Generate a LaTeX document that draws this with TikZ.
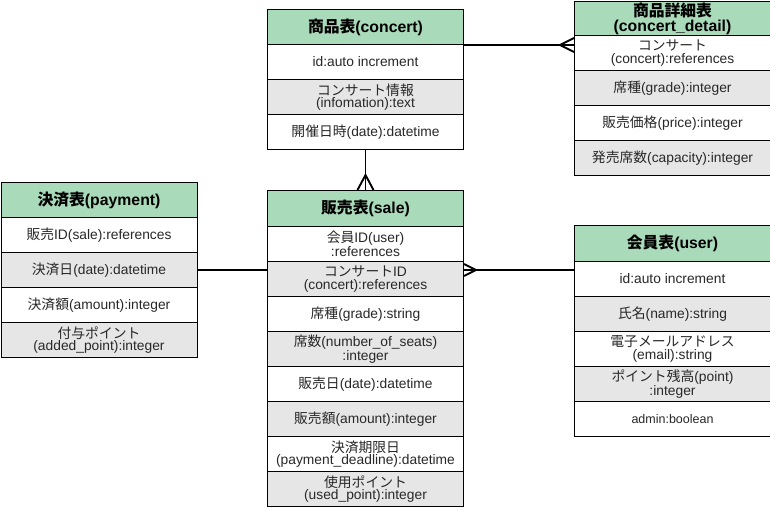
\documentclass[tikz,border=0pt]{standalone}
\usepackage{fontspec}
\setmainfont{Liberation Sans}
\newfontfamily\jp{Noto Sans CJK JP}
\newcommand{\J}[1]{{\jp #1}}
\usetikzlibrary{calc}
\definecolor{hdrgreen}{RGB}{169,218,186}
\definecolor{rowgray}{RGB}{230,230,230}
\definecolor{txt}{RGB}{40,40,40}
\begin{document}
\begin{tikzpicture}[x=1pt,y=-1pt,
 base/.style={draw=black, line width=1pt, anchor=north west, minimum width=196pt, minimum height=35pt, inner sep=0pt, align=center, text=txt, font=\fontsize{13.8}{12.5}\selectfont},
 hdr/.style={base, fill=hdrgreen, text=black, font=\bfseries\fontsize{15.8}{15}\selectfont},
 cw/.style={base, fill=white},
 cg/.style={base, fill=rowgray},
 conn/.style={line width=1.9pt, draw=black},
]
\useasboundingbox (0,0) rectangle (770,508);
% concert
\node[hdr] (ch) at (267,9) {\J{商品表}(concert)};
\node[cw] (c1) at (267,44) {id:auto increment};
\node[cg] (c2) at (267,79) {\J{コンサート情報}\\(infomation):text};
\node[cw] (c3) at (267,114) {\J{開催日時}(date):datetime};
% concert_detail
\node[hdr, minimum height=34pt] (dh) at (574,1) {\J{商品詳細表}\\(concert\_detail)};
\node[cw] (d1) at (574,35) {\J{コンサート}\\(concert):references};
\node[cg] (d2) at (574,70) {\J{席種}(grade):integer};
\node[cw] (d3) at (574,105) {\J{販売価格}(price):integer};
\node[cg] (d4) at (574,140) {\J{発売席数}(capacity):integer};
% payment
\node[hdr] (ph) at (0.5,182) {\J{決済表}(payment)};
\node[cw] (p1) at (0.5,217) {\J{販売}ID(sale):references};
\node[cg] (p2) at (0.5,252) {\J{決済日}(date):datetime};
\node[cw] (p3) at (0.5,287) {\J{決済額}(amount):integer};
\node[cg] (p4) at (0.5,322) {\J{付与ポイント}\\(added\_point):integer};
% sale
\node[hdr, minimum height=36pt] (sh) at (267,190) {\J{販売表}(sale)};
\node[cw] (s1) at (267,226) {\J{会員}ID(user)\\:references};
\node[cg] (s2) at (267,261) {\J{コンサート}ID\\(concert):references};
\node[cw] (s3) at (267,296) {\J{席種}(grade):string};
\node[cg] (s4) at (267,331) {\J{席数}(number\_of\_seats)\\:integer};
\node[cw] (s5) at (267,366) {\J{販売日}(date):datetime};
\node[cg] (s6) at (267,401) {\J{販売額}(amount):integer};
\node[cw] (s7) at (267,436) {\J{決済期限日}\\(payment\_deadline):datetime};
\node[cg] (s8) at (267,471) {\J{使用ポイント}\\(used\_point):integer};
% user
\node[hdr, minimum height=36pt] (uh) at (574,225) {\J{会員表}(user)};
\node[cw] (u1) at (574,261) {id:auto increment};
\node[cg] (u2) at (574,296) {\J{氏名}(name):string};
\node[cw] (u3) at (574,331) {\J{電子メールアドレス}\\(email):string};
\node[cg] (u4) at (574,366) {\J{ポイント残高}(point)\\:integer};
\node[cw, font=\fontsize{12.5}{12}\selectfont] (u5) at (574,401) {admin:boolean};
% connectors
\coordinate (e1) at (ch.south east -| d1.west);
\draw[conn] (ch.south east) -- (e1);
\draw[conn] ($(e1)+(0,-7)$) -- ($(e1)+(-14,0)$) -- ($(e1)+(0,7)$);
\coordinate (e2) at (c3.south |- sh.north);
\draw[conn] (c3.south) -- (e2);
\draw[conn] ($(e2)+(-8,0)$) -- ($(e2)+(0,-15)$) -- ($(e2)+(8,0)$);
\draw[conn] (p2.east) -- (p2.east -| s2.west);
\coordinate (e4) at (s2.east |- p2.east);
\draw[conn] (e4) -- (e4 -| u1.west);
\draw[conn] ($(e4)+(0,-6)$) -- ($(e4)+(12,0)$) -- ($(e4)+(0,6)$);
\end{tikzpicture}
\end{document}
